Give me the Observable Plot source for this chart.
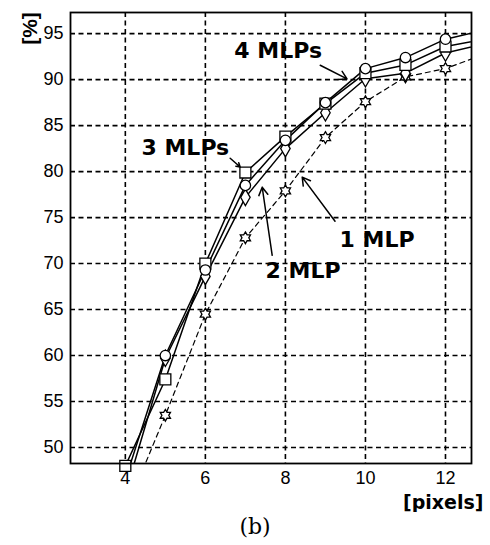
<!DOCTYPE html>
<html>
<head>
<meta charset="utf-8">
<script src="https://cdn.jsdelivr.net/npm/d3@7"></script>
<script src="https://cdn.jsdelivr.net/npm/@observablehq/plot@0.6"></script>
<style>
  html, body { margin: 0; padding: 0; background: #fff; }
  #chart { width: 490px; }
  #caption { width: 490px; height: 33px; text-align: center; padding-left: 20px; box-sizing: border-box;
             font-family: "DejaVu Serif", "Liberation Serif", serif; font-size: 22px; line-height: 30px; color: #000; }
</style>
</head>
<body>
<div id="chart"></div>
<div id="caption">(b)</div>
<script>
// pixel size (x) values
const pixels = [4, 5, 6, 7, 8, 9, 10, 11, 12, 13];
// recognition rate [%] per classifier set
const mlp1 = [43.0, 53.5, 64.5, 72.8, 77.9, 83.7, 87.6, 90.3, 91.2, 92.8];
const mlp2 = [45.0, 59.7, 68.6, 77.2, 82.5, 86.4, 90.1, 90.7, 92.9, 93.9];
const mlp3 = [48.0, 57.4, 70.0, 79.9, 83.8, 87.4, 90.7, 91.6, 93.6, 94.4];
const mlp4 = [46.5, 60.0, 69.3, 78.5, 83.4, 87.5, 91.2, 92.4, 94.4, 95.4];

const xTicks = [4, 6, 8, 10, 12];
const yTicks = [50, 55, 60, 65, 70, 75, 80, 85, 90, 95];

// annotation labels and their arrows (data coordinates)
const labelText = ["4 MLPs", "3 MLPs", "2 MLP", "1 MLP"];
const labelX = [7.82, 5.5, 8.44, 10.29];
const labelY = [93.15, 82.6, 69.2, 72.6];
const arrowX1 = [8.87, 6.62, 7.67, 9.24];
const arrowY1 = [91.56, 81.45, 70.9, 74.6];
const arrowX2 = [9.54, 6.87, 7.42, 8.42];
const arrowY2 = [90.08, 80.5, 78.3, 79.4];

const rows = (vals) => pixels.map((p, i) => ({x: p, y: vals[i]}));
const visible = (vals) => rows(vals).filter(d => d.x <= 12.6 && d.y >= 47.5);

const labels = labelText.map((t, i) => ({t, x: labelX[i], y: labelY[i]}));
const arrows = labelText.map((t, i) => ({x1: arrowX1[i], y1: arrowY1[i], x2: arrowX2[i], y2: arrowY2[i]}));

// six-pointed star marker (two overlapping triangles)
const hexagram = {
  draw(context, size) {
    const r = Math.sqrt(size / 1.6);
    const pts = [];
    for (let k = 0; k < 12; k++) {
      const a = -Math.PI / 2 + k * Math.PI / 6;
      const rr = k % 2 === 0 ? r : r * 0.58;
      pts.push([rr * Math.cos(a), rr * Math.sin(a)]);
    }
    context.moveTo(pts[0][0], pts[0][1]);
    for (let k = 1; k < 12; k++) context.lineTo(pts[k][0], pts[k][1]);
    context.closePath();
  }
};

const font = "'Liberation Sans', Arial, sans-serif";
const boldFont = "'DejaVu Sans', sans-serif";

const solid = {x: "x", y: "y", stroke: "#000", strokeWidth: 1.5, clip: true};
const dotStyle = {x: "x", y: "y", stroke: "#000", fill: "#fff", strokeWidth: 1.3};

const chart = Plot.plot({
  width: 490,
  height: 512,
  marginLeft: 70,
  marginRight: 19,
  marginTop: 12,
  marginBottom: 49,
  style: {fontFamily: font, fontSize: "18px", color: "#000", background: "#fff"},
  x: {domain: [2.63, 12.65], ticks: xTicks, tickSize: 0, tickPadding: 9, label: null},
  y: {domain: [48.26, 97.3], ticks: yTicks, tickSize: 0, tickPadding: 7, label: null},
  marks: [
    Plot.gridX(xTicks, {stroke: "#000", strokeOpacity: 1, strokeWidth: 1.6, strokeDasharray: "5,3.5"}),
    Plot.gridY(yTicks, {stroke: "#000", strokeOpacity: 1, strokeWidth: 1.6, strokeDasharray: "5,3.5"}),
    Plot.line(rows(mlp1), {...solid, strokeWidth: 1.2, strokeDasharray: "5,4"}),
    Plot.line(rows(mlp2), solid),
    Plot.line(rows(mlp3), solid),
    Plot.line(rows(mlp4), solid),
    Plot.dot(visible(mlp1), {...dotStyle, symbol: hexagram, r: 4.2}),
    Plot.dot(visible(mlp2), {...dotStyle, symbol: "diamond", r: 5}),
    Plot.dot(visible(mlp3), {...dotStyle, symbol: "square", r: 6.2}),
    Plot.dot(visible(mlp4), {...dotStyle, symbol: "circle", r: 5.2}),
    Plot.frame({stroke: "#000", strokeWidth: 1.8}),
    Plot.arrow(arrows, {x1: "x1", y1: "y1", x2: "x2", y2: "y2", stroke: "#000", strokeWidth: 1.5, headLength: 9, insetEnd: 0}),
    Plot.text(labels, {x: "x", y: "y", text: "t", fontFamily: boldFont, fontWeight: "bold", fontSize: 22, fill: "#000", textAnchor: "middle"}),
    Plot.text(["[pixels]"], {frameAnchor: "bottom-right", text: d => d, dx: 12, dy: 39, lineAnchor: "middle", textAnchor: "end", fontFamily: boldFont, fontWeight: "bold", fontSize: 19, fill: "#000"}),
    Plot.text(["[%]"], {frameAnchor: "top-left", text: d => d, rotate: -90, dx: -40, dy: 16, textAnchor: "middle", lineAnchor: "middle", fontFamily: font, fontWeight: "bold", fontSize: 21, fill: "#000"}),
    Plot.axisX({ticks: xTicks, tickSize: 0, tickPadding: 8, label: null, fontSize: 18}),
    Plot.axisY({ticks: yTicks, tickSize: 0, tickPadding: 7, label: null, fontSize: 18})
  ]
});
document.getElementById("chart").appendChild(chart);
</script>
</body>
</html>
